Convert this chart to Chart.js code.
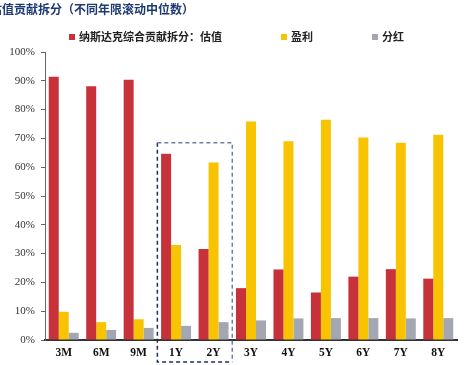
<!DOCTYPE html>
<html>
<head>
<meta charset="utf-8">
<script src="https://cdn.jsdelivr.net/npm/chart.js@4.4.1/dist/chart.umd.min.js"></script>
<style>
	body { margin: 0; background: #fff; }
	#wrap { position: relative; width: 470px; height: 365px; overflow: hidden; }
	#title { position: absolute; left: -10px; top: 0px; font: bold 12px "Noto Sans CJK SC", sans-serif; color: #1F3A73; white-space: nowrap; }
	#legend { position: absolute; top: 28px; left: 0; width: 470px; height: 16px; font: bold 11px "Noto Sans CJK SC", sans-serif; color: #222; }
	#legend span { position: absolute; top: 0; white-space: nowrap; }
	#legend i { display: inline-block; width: 6px; height: 6px; margin-right: 4px; vertical-align: 1px; }
	canvas { position: absolute; left: 0; top: 0; }
</style>
</head>
<body>
<div id="wrap">
	<canvas id="chart" width="470" height="365"></canvas>
	<div id="title">估值贡献拆分（不同年限滚动中位数）</div>
	<div id="legend"></div>
</div>
<script>
const categories = ["3M", "6M", "9M", "1Y", "2Y", "3Y", "4Y", "5Y", "6Y", "7Y", "8Y"]
const valuation = [91.4, 88.1, 90.4, 64.7, 31.6, 18.0, 24.5, 16.5, 22.0, 24.6, 21.3]
const earnings = [9.8, 6.2, 7.2, 33.0, 61.6, 75.9, 69.0, 76.5, 70.3, 68.5, 71.3]
const dividends = [2.5, 3.5, 4.2, 4.9, 6.2, 6.8, 7.5, 7.6, 7.6, 7.5, 7.6]
const seriesNames = ["纳斯达克综合贡献拆分：估值", "盈利", "分红"]
const seriesColors = ["#C7313A", "#F8C300", "#A3A7B2"]
const yTicks = [0, 10, 20, 30, 40, 50, 60, 70, 80, 90, 100]
const boxRange = ["1Y", "2Y"]
const boxTop = 68.5

//legend in html so it sits where the original one does
const legendPos = [69, 281, 372]
const legend = document.getElementById("legend")
seriesNames.forEach((name, i) => {
	const item = document.createElement("span")
	item.style.left = legendPos[i] + "px"
	item.innerHTML = `<i style="background:${seriesColors[i]}"></i>${name}`
	legend.appendChild(item)
})

//dashed box round 1Y and 2Y
const dashedBox = {
	id: "dashedBox",
	afterDatasetsDraw(chart) {
		const ctx = chart.ctx
		const x = chart.scales.x
		const y = chart.scales.y
		const step = x.getPixelForValue(1) - x.getPixelForValue(0)
		const left = x.getPixelForValue(categories.indexOf(boxRange[0])) - step / 2
		const right = x.getPixelForValue(categories.indexOf(boxRange[1])) + step / 2
		const top = y.getPixelForValue(boxTop)
		const bottom = y.getPixelForValue(0) + 22
		ctx.save()
		ctx.lineWidth = 1.5
		ctx.setLineDash([4, 3])
		ctx.strokeStyle = "#1E2F5E"
		ctx.beginPath()
		ctx.moveTo(left, top)
		ctx.lineTo(left, bottom)
		ctx.lineTo(right, bottom)
		ctx.stroke()
		ctx.strokeStyle = "#6E7FA6"
		ctx.beginPath()
		ctx.moveTo(left, top)
		ctx.lineTo(right, top)
		ctx.lineTo(right, bottom)
		ctx.stroke()
		ctx.restore()
	}
}

const chart_ctx = document.getElementById("chart").getContext("2d")
new Chart(chart_ctx, {
	type: "bar",
	data: {
		labels: categories,
		datasets: [valuation, earnings, dividends].map((d, i) => ({
			label: seriesNames[i],
			data: d,
			backgroundColor: seriesColors[i],
			borderWidth: 0,
			categoryPercentage: 0.8,
			barPercentage: 1.0
		}))
	},
	options: {
		responsive: false,
		animation: false,
		layout: { padding: { top: 52, right: 13, left: 0, bottom: 0 } },
		plugins: {
			legend: { display: false },
			tooltip: { enabled: false }
		},
		scales: {
			x: {
				grid: { display: false, drawTicks: false },
				border: { color: "#333", width: 2 },
				ticks: {
					color: "#111",
					padding: 6,
					font: { family: "Liberation Serif", size: 11.5, weight: "bold" }
				},
				afterFit: (scale) => { scale.height = 25 }
			},
			y: {
				min: 0,
				max: 100,
				afterBuildTicks: (scale) => { scale.ticks = yTicks.map(v => ({ value: v })) },
				grid: { drawOnChartArea: false, tickLength: 4, color: "#666" },
				border: { color: "#666", width: 1 },
				ticks: {
					color: "#333",
					padding: 6,
					font: { family: "Liberation Serif", size: 11 },
					callback: (v) => v + "%"
				},
				afterFit: (scale) => { scale.width = 45 }
			}
		}
	},
	plugins: [dashedBox]
})
</script>
</body>
</html>
